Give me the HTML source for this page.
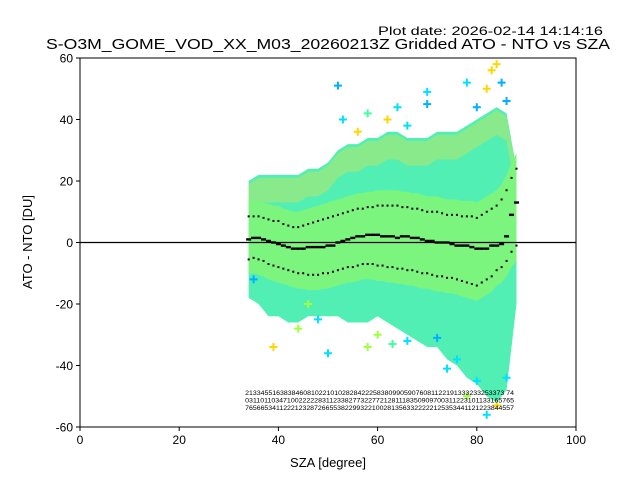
<!DOCTYPE html>
<html><head><meta charset="utf-8"><style>
body{margin:0;background:#fff;}
svg{display:block;font-family:"Liberation Sans","DejaVu Sans",sans-serif;}
</style></head><body>
<svg id="chart" width="640" height="480" viewBox="0 0 640 480">
<rect x="0" y="0" width="640" height="480" fill="#fff"/>
<text x="378" y="35" font-size="12" textLength="225" lengthAdjust="spacingAndGlyphs">Plot date: 2026-02-14 14:14:16</text>
<text x="46" y="49" font-size="14.5" textLength="564" lengthAdjust="spacingAndGlyphs">S-O3M_GOME_VOD_XX_M03_20260213Z Gridded ATO - NTO vs SZA</text>
<g id="plot"></g>
<text x="328" y="467" font-size="13" text-anchor="middle">SZA [degree]</text>
<text transform="translate(32,242) rotate(-90)" font-size="13" text-anchor="middle">ATO - NTO [DU]</text>
</svg>
<script>
const sza = [34,36,38,40,42,44,46,48,50,52,54,56,58,60,62,64,66,68,70,72,74,76,78,80,82,84,86,88];
const upperEnv = [20,22,22,22,22,22,24,24,26,30,32,32,34,34,36,36,34,34,34,36,36,36,38,40,42,44,42,24];
const lowerEnv = [-18,-20,-24,-24,-26,-26,-24,-24,-24,-24,-26,-26,-26,-24,-26,-28,-30,-32,-34,-34,-38,-40,-44,-46,-50,-52,-48,-20];
const meanSza = [34,35,36,37,38,39,40,41,42,43,44,45,46,47,48,49,50,51,52,53,54,55,56,57,58,59,60,61,62,63,64,65,66,67,68,69,70,71,72,73,74,75,76,77,78,79,80,81,82,83,84,85,86,87,88];
const meanVal = [1,1.5,1.5,1,0.5,0,-0.5,-1,-1.5,-2,-2,-2,-1.5,-1.5,-1.5,-1.5,-1,-1,0,0.5,1,1.5,2,2,2.5,2.5,2.5,2,2,2,1.5,2,2,1.5,1.5,1,0.5,0.5,0,0,0,-0.5,-1,-1,-1,-1.5,-2,-2,-2,-1,-1,-0.5,2,9,13];
const sigUp = [8.5,8.5,8.5,8,7.5,7,7,6,5.5,5,5,5.5,6,6.5,7,7.5,8,8.5,9,9.5,10,10.5,11,11,11.5,11.5,12,12,12,12,12,11.5,11.5,11,11,10.5,10,10,10,9.5,9,9,9,8.5,8.5,8.5,8,9,10,11,12,14,17,21,24];
const sigLo = [-5.5,-5,-5.5,-6,-7,-7.5,-8,-8.5,-9,-9.5,-10,-10,-10.5,-10.5,-10.5,-10,-10,-9.5,-9,-8.5,-8,-8,-7.5,-7,-7,-7,-7.5,-7.5,-8,-8,-8.5,-8.5,-9,-9,-9.5,-10,-10,-10.5,-11,-11,-11.5,-11.5,-12,-12.5,-13,-13.5,-14,-13,-12,-11,-9,-8,-6,-3,-1];
const outX = [52,53,56,58,62,64,66,70,70,78,80,82,83,84,85,86,35,39,44,48,60,63,72,76,80,84,86,74,78,82,58,66,46,50];
const outY = [51,40,36,42,40,44,38,49,45,52,44,50,56,58,52,46,-12,-34,-28,-25,-30,-33,-31,-38,-45,-53,-44,-41,-50,-56,-34,-32,-20,-36];
const outC = ["#00b0ff","#00e0ff","#ffd700","#40ffa0","#ffd700","#00e0ff","#00e0ff","#00e0ff","#00b0ff","#00e0ff","#00b0ff","#ffd700","#ffd700","#ffd700","#00b0ff","#00b0ff","#00b0ff","#ffd700","#a0ff40","#00e0ff","#a0ff40","#40ffa0","#00b0ff","#00e0ff","#00e0ff","#ffd700","#00e0ff","#00e0ff","#a0ff40","#00e0ff","#a0ff40","#00e0ff","#a0ff40","#00e0ff"];
const xTicks = [0,20,40,60,80,100];
const yTicks = [-60,-40,-20,0,20,40,60];

const L=80,R=576,T=58,B=427;
const xs=v=>L+(v-0)/(100-0)*(R-L);
const ys=v=>B-(v+60)/120*(B-T);
const NS="http://www.w3.org/2000/svg";
const g=document.getElementById('plot');
function mk(tag,attrs,parent){const e=document.createElementNS(NS,tag);for(const k in attrs)e.setAttribute(k,attrs[k]);(parent||g).appendChild(e);return e;}

let pts=sza.map((s,i)=>xs(s)+','+ys(upperEnv[i])).concat(sza.slice().reverse().map((s,j)=>{const i=sza.length-1-j;return xs(s)+','+ys(lowerEnv[i]);}));
let e=mk('polygon',{points:pts.join(' '),fill:'#52efb4'});


pts=sza.map((s,i)=>xs(s)+','+ys(upperEnv[i]-1)).concat(sza.slice().reverse().map((s,j)=>{const i=sza.length-1-j;return xs(s)+','+ys(upperEnv[i]-9);}));
e=mk('polygon',{points:pts.join(' '),fill:'#9fe878',opacity:0.7});


pts=meanSza.map((s,i)=>xs(s)+','+ys(sigUp[i]+5)).concat(meanSza.slice().reverse().map((s,j)=>{const i=meanSza.length-1-j;return xs(s)+','+ys(sigLo[i]-5);}));
e=mk('polygon',{points:pts.join(' '),fill:'#7cf57e'});


outX.forEach((x,i)=>{const cx=xs(x),cy=ys(outY[i]);
 const p=mk('path',{d:`M${cx-4},${cy}H${cx+4}M${cx},${cy-4}V${cy+4}`,stroke:outC[i],'stroke-width':2});
 
 
});
e=mk('line',{x1:L,x2:R,y1:ys(0),y2:ys(0),stroke:'#000','stroke-width':1.2});


meanSza.forEach((s,i)=>{
 const m=mk('rect',{x:xs(s)-2.5,y:ys(meanVal[i])-1.2,width:5,height:2.4,fill:'#000'});
 
 
 [sigUp[i],sigLo[i]].forEach(v=>{
  const d=mk('rect',{x:xs(s)-1,y:ys(v)-1,width:2,height:2,fill:'#000'});
  
  
 });
});
const rows=["2133455163838460810221010282842225838099059076081122191333233253373 74","0311011034710022222831123382773227721281118350909700311223101133165765","7656653411222123287266553822993221002813563322222125353441121223844557"];
rows.forEach((r,k)=>{const t=mk('text',{x:xs(33.3),y:395+k*7.5,'font-size':6.2,textLength:xs(87.5)-xs(33.3),lengthAdjust:'spacingAndGlyphs'});t.textContent=r;
 
 
});
e=mk('rect',{x:L,y:T,width:R-L,height:B-T,fill:'none',stroke:'#000','stroke-width':1});


xTicks.forEach(v=>{
 const l=mk('line',{x1:xs(v),x2:xs(v),y1:B,y2:B+4,stroke:'#000'});
 
 
 const t=mk('text',{x:xs(v),y:B+17,'font-size':12,'text-anchor':'middle'});t.textContent=v;
 
 
});
yTicks.forEach(v=>{
 const l=mk('line',{x1:L-4,x2:L,y1:ys(v),y2:ys(v),stroke:'#000'});
 
 
 const t=mk('text',{x:L-7,y:ys(v)+4.5,'font-size':12,'text-anchor':'end'});t.textContent=v;
 
 
});
</script>
</body></html>
